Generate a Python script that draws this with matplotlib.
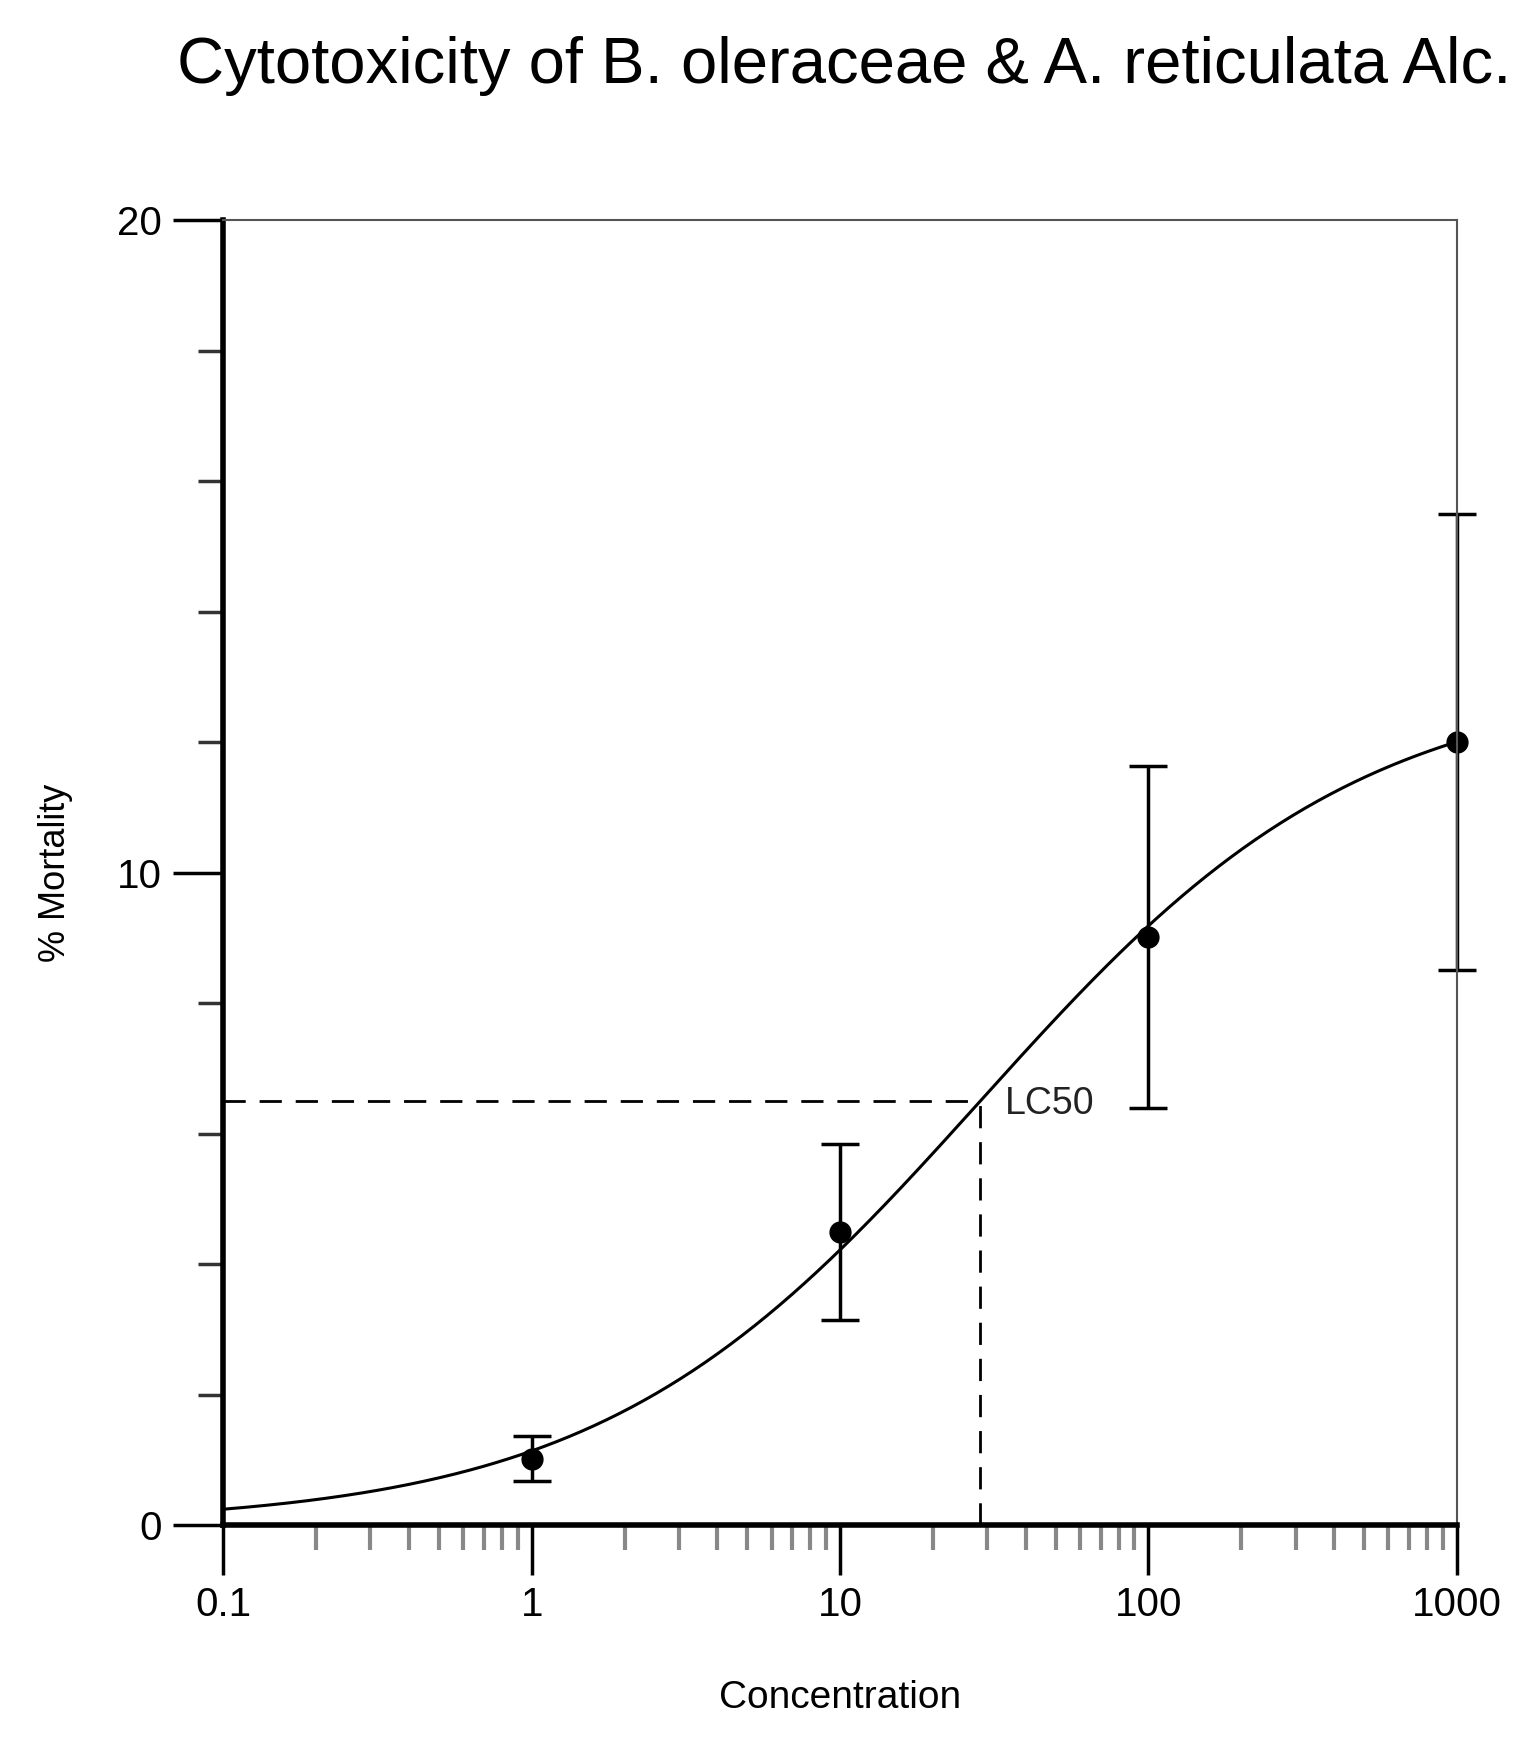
import numpy as np
import matplotlib.pyplot as plt

plt.rcParams["font.family"] = ["Liberation Sans", "DejaVu Sans"]

# measured points
conc = [1, 10, 100, 1000]
mortality = [1.02, 4.49, 9.02, 12.0]
err = [0.35, 1.35, 2.62, 3.49]

# fitted dose-response parameters
top = 13.0
lc50 = 28.5
hill = 0.70
lc50_y = 6.5


def dose_response(x):
    return top / (1 + (lc50 / x) ** hill)


fig = plt.figure(figsize=(15.4, 17.47), dpi=100)
ax = fig.add_axes([0.145, 0.127, 0.801, 0.747])

xs = np.logspace(-1, 3, 400)
ax.plot(xs, dose_response(xs), color="black", lw=2.2)
eb = ax.errorbar(conc, mortality, yerr=err, fmt="o", color="black", ms=15,
                 elinewidth=2.5, capsize=14, capthick=2.5)
for art in eb.get_children():
    art.set_clip_on(False)
eb[0].set_clip_on(False)

ax.plot([0.1, lc50], [lc50_y, lc50_y], "--", color="black", lw=2, dashes=(8, 5))
ax.plot([lc50, lc50], [0, lc50_y], "--", color="black", lw=2, dashes=(8, 5))
ax.text(lc50 * 1.2, lc50_y - 0.05, "LC50", fontsize=27, va="center", ha="left",
        color="#222222")

ax.set_xscale("log")
ax.set_xlim(0.1, 1000)
ax.set_ylim(0, 20)
ax.set_xticks([0.1, 1, 10, 100, 1000])
ax.set_xticklabels(["0.1", "1", "10", "100", "1000"])
ax.set_yticks([0, 10, 20])
ax.set_yticks(np.arange(0, 21, 2), minor=True)

for side in ["left", "bottom"]:
    ax.spines[side].set_linewidth(4)
for side in ["top", "right"]:
    ax.spines[side].set_linewidth(1.5)
    ax.spines[side].set_color("#555555")

ax.tick_params(axis="both", which="major", direction="out", length=36, width=2.5,
               labelsize=29, pad=8, colors="black")
ax.tick_params(axis="x", which="minor", direction="out", length=18, width=3, color="#888888")
ax.tick_params(axis="y", which="minor", direction="out", length=18, width=2.5, color="#333333")

ax.set_xlabel("Concentration", fontsize=28, labelpad=40)
ax.set_ylabel("% Mortality", fontsize=26, labelpad=32)
fig.text(0.548, 0.962, "Cytotoxicity of B. oleraceae & A. reticulata Alc.",
         fontsize=47, ha="center", va="center")

fig.savefig("out.png", dpi=100)
